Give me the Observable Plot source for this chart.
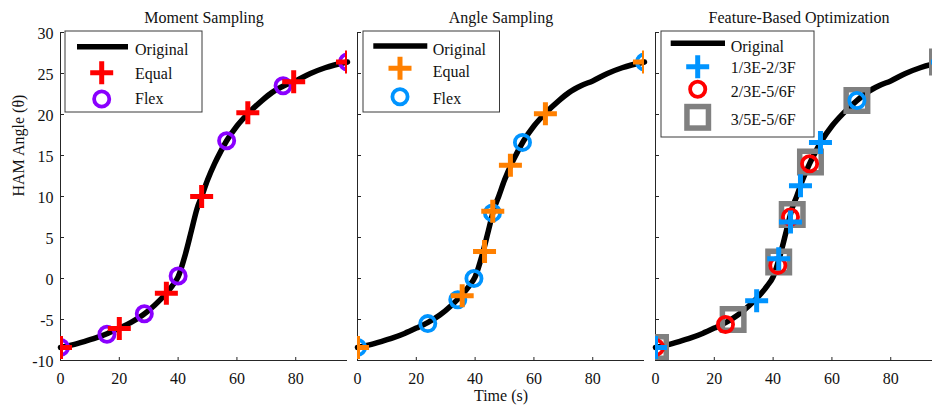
<!DOCTYPE html>
<html>
<head>
<meta charset="utf-8">
<script src="https://cdn.jsdelivr.net/npm/d3@7"></script>
<script src="https://cdn.jsdelivr.net/npm/@observablehq/plot@0.6"></script>
<style>
  body { margin: 0; background: #fff; }
  #chart { position: relative; width: 932px; height: 409px; overflow: hidden; background: #fff; }
  .panel { position: absolute; top: 0; }
  #chart svg text { font-family: 'Liberation Serif','Times New Roman',Times,serif; }
</style>
</head>
<body>
<div id="chart"></div>
<script>
// ---------------- data ----------------
const xMax = 97.6;
const yTicks = [-10, -5, 0, 5, 10, 15, 20, 25, 30];
const xTicks = [0, 20, 40, 60, 80];

// original HAM angle trajectory
const curveT = [0, 4, 8, 12, 16, 20, 24, 28, 32, 36, 38, 40, 42.5, 44.5, 46.5, 48, 50, 52.4, 54.5, 56.5, 60, 64, 68.5, 72, 76, 80, 85, 90, 97.6];
const curveY = [-8.4, -8.1, -7.7, -7.25, -6.7, -6.05, -5.35, -4.45, -3.25, -1.8, -0.9, 0.2, 3.0, 5.8, 8.6, 10.0, 12.0, 14.0, 15.5, 16.8, 18.6, 20.2, 21.7, 22.7, 23.5, 24.1, 25.0, 25.7, 26.4];

// Moment Sampling
const momentEqualT = [0, 20, 36, 48, 63.7, 79.3, 97.6];
const momentEqualY = [-8.4, -6.1, -1.8, 10.0, 20.2, 24.0, 26.4];
const momentFlexT = [0, 15.8, 28.5, 40, 56.5, 75.7, 97.6];
const momentFlexY = [-8.4, -6.8, -4.3, 0.3, 16.8, 23.5, 26.4];

// Angle Sampling
const angleEqualT = [0, 35.6, 43.2, 46.0, 52.0, 63.9, 97.6];
const angleEqualY = [-8.4, -2.1, 3.3, 8.2, 13.8, 20.1, 26.4];
const angleFlexT = [0, 23.9, 34.1, 39.6, 45.9, 56.1, 97.6];
const angleFlexY = [-8.4, -5.5, -2.6, 0.0, 8.0, 16.6, 26.4];

// Feature-Based Optimization
const featAT = [0, 34.4, 41.9, 45.9, 49.3, 56.1, 97.6];      // 1/3E-2/3F
const featAY = [-8.4, -2.7, 2.4, 6.9, 11.3, 16.6, 26.4];
const featBT = [0, 23.8, 41.6, 45.9, 52.4];                  // 2/3E-5/6F
const featBY = [-8.4, -5.6, 1.6, 7.5, 14.0];
const featBlueRingT = [68.5];                                // stray blue ring
const featBlueRingY = [21.7];
const featCT = [0, 26.4, 41.9, 46.5, 52.7, 68.5, 97.6];      // 3/5E-5/6F
const featCY = [-8.4, -5.0, 2.0, 7.8, 14.2, 21.7, 26.4];

// ---------------- styling ----------------
const FONT = "'Liberation Serif','Times New Roman',Times,serif";
const AX = "#262626";
const TXT = "#111";
const RED = "#ff0000", PURPLE = "#8a00ff", ORANGE = "#ff8000", BLUE = "#0094ff", GRAY = "#808080";

const plusSym = {draw(ctx, size) { const r = Math.sqrt(size / Math.PI); ctx.moveTo(-r, 0); ctx.lineTo(r, 0); ctx.moveTo(0, -r); ctx.lineTo(0, r); }};
const squareSym = {draw(ctx, size) { const r = Math.sqrt(size / Math.PI); ctx.moveTo(-r, -r); ctx.lineTo(r, -r); ctx.lineTo(r, r); ctx.lineTo(-r, r); ctx.closePath(); }};
const tickRight = {draw(ctx) { ctx.moveTo(0, 0); ctx.lineTo(3.5, 0); }};
const tickUp = {draw(ctx) { ctx.moveTo(0, 0); ctx.lineTo(0, -3.5); }};

const PLUS = {kind: "plus", symbol: plusSym, r: 11.5, strokeWidth: 5};
const RING = {kind: "ring", symbol: "circle", r: 7.6, strokeWidth: 3.8};
const SQUARE = {kind: "square", symbol: squareSym, r: 10.75, strokeWidth: 5.5};

const zip = (xs, ys) => xs.map((x, i) => ({x, y: ys[i]}));
const T = {fontSize: 16, fontFamily: FONT, fill: TXT, lineAnchor: "middle"};

function seriesMark(s) {
  return Plot.dot(zip(s.t, s.y), {
    x: "x", y: "y", symbol: s.m.symbol, r: s.m.r, stroke: s.color, strokeWidth: s.m.strokeWidth,
    fill: "none", strokeLinecap: "butt", strokeLinejoin: "miter", clip: true
  });
}

function panel(cfg) {
  const marks = [
    Plot.ruleX([0], {stroke: AX, strokeWidth: 1}),
    Plot.ruleY([-10], {stroke: AX, strokeWidth: 1}),
    Plot.dot(yTicks, {x: 0, y: d => d, symbol: tickRight, stroke: AX, strokeWidth: 1}),
    Plot.dot(xTicks, {x: d => d, y: -10, symbol: tickUp, stroke: AX, strokeWidth: 1}),
    Plot.text(xTicks, {x: d => d, y: -10, text: d => String(d), dy: 18, ...T}),
    Plot.text([cfg.title], {frameAnchor: "top", dy: -15, text: d => d, ...T}),
    Plot.line(zip(curveT, curveY), {x: "x", y: "y", stroke: "#000", strokeWidth: 5.5, curve: "monotone-x", strokeLinejoin: "round"}),
    ...cfg.series.map(seriesMark)
  ];
  if (cfg.yLabels) {
    marks.push(Plot.text(yTicks, {x: 0, y: d => d, text: d => String(d), textAnchor: "end", dx: -7, dy: 1, ...T}));
    marks.push(Plot.text(["HAM Angle (\u03b8)"], {frameAnchor: "left", dx: -42, rotate: -90, text: d => d, ...T}));
  }
  if (cfg.xLabel) {
    marks.push(Plot.text([cfg.xLabel], {frameAnchor: "bottom", dy: 35, text: d => d, ...T}));
  }
  const svg = Plot.plot({
    width: cfg.width, height: 409,
    marginTop: 32, marginBottom: 49, marginLeft: cfg.mL, marginRight: cfg.mR,
    x: {domain: [0, xMax], axis: null},
    y: {domain: [-10, 30], axis: null},
    style: {background: "transparent", overflow: "visible", fontFamily: FONT, fontSize: "16px", maxWidth: "none"},
    marks
  });
  const div = document.createElement("div");
  div.className = "panel";
  div.style.left = cfg.left + "px";
  div.style.width = cfg.width + "px";
  div.appendChild(svg);
  document.getElementById("chart").appendChild(div);
  drawLegend(svg, cfg.left, cfg.legend, cfg.series);
}

function drawLegend(svgNode, left, L, series) {
  const g = d3.select(svgNode).append("g")
    .attr("transform", `translate(${-left},0)`)
    .attr("font-family", FONT).attr("font-size", 16).attr("fill", TXT)
    .attr("text-anchor", "start");
  g.append("rect")
    .attr("x", L.box[0]).attr("y", L.box[1])
    .attr("width", L.box[2] - L.box[0]).attr("height", L.box[3] - L.box[1])
    .attr("fill", "#fff").attr("stroke", "#3a3a3a").attr("stroke-width", 1);
  g.append("line")
    .attr("x1", L.line[0]).attr("x2", L.line[1]).attr("y1", L.line[2]).attr("y2", L.line[2])
    .attr("stroke", "#000").attr("stroke-width", 5.5);
  g.append("text").attr("x", L.tx).attr("y", L.base[0]).attr("text-anchor", "start").text("Original");
  L.items.forEach((it, i) => {
    const s = series.find(d => d.label === it);
    const cx = L.mx, cy = L.my[i], m = s.m;
    if (m.kind === "plus") {
      g.append("path").attr("d", `M${cx - m.r},${cy}H${cx + m.r}M${cx},${cy - m.r}V${cy + m.r}`)
        .attr("stroke", s.color).attr("stroke-width", m.strokeWidth).attr("fill", "none");
    } else if (m.kind === "ring") {
      g.append("circle").attr("cx", cx).attr("cy", cy).attr("r", m.r)
        .attr("stroke", s.color).attr("stroke-width", m.strokeWidth).attr("fill", "none");
    } else {
      g.append("rect").attr("x", cx - m.r).attr("y", cy - m.r).attr("width", 2 * m.r).attr("height", 2 * m.r)
        .attr("stroke", s.color).attr("stroke-width", m.strokeWidth).attr("fill", "none");
    }
    g.append("text").attr("x", L.tx).attr("y", L.base[i + 1]).attr("text-anchor", "start").text(it);
  });
}

panel({
  left: 0, width: 357, mL: 60, mR: 10, title: "Moment Sampling", yLabels: true,
  series: [
    {label: "Flex", t: momentFlexT, y: momentFlexY, color: PURPLE, m: RING},
    {label: "Equal", t: momentEqualT, y: momentEqualY, color: RED, m: PLUS}
  ],
  legend: {box: [65, 31, 202, 112], line: [77, 128, 46.7], tx: 135, base: [54.8, 78.8, 104.3], mx: 101.7, my: [72.7, 99], items: ["Equal", "Flex"]}
});

panel({
  left: 347, width: 307, mL: 10, mR: 10, title: "Angle Sampling", xLabel: "Time (s)",
  series: [
    {label: "Flex", t: angleFlexT, y: angleFlexY, color: BLUE, m: RING},
    {label: "Equal", t: angleEqualT, y: angleEqualY, color: ORANGE, m: PLUS}
  ],
  legend: {box: [363, 31, 499.5, 112], line: [373.3, 427.3, 46], tx: 432.7, base: [55, 77.3, 104], mx: 400, my: [68.3, 96.7], items: ["Equal", "Flex"]}
});

panel({
  left: 645, width: 307, mL: 10, mR: 10, title: "Feature-Based Optimization",
  series: [
    {label: "3/5E-5/6F", t: featCT, y: featCY, color: GRAY, m: SQUARE},
    {label: "2/3E-5/6F", t: featBT, y: featBY, color: RED, m: RING},
    {label: "ring", t: featBlueRingT, y: featBlueRingY, color: BLUE, m: RING},
    {label: "1/3E-2/3F", t: featAT, y: featAY, color: BLUE, m: PLUS}
  ],
  legend: {box: [661, 31, 814, 137], line: [670.7, 725, 43.3], tx: 730.7, base: [51.7, 73.3, 96.7, 125], mx: 697.7, my: [66.7, 89.3, 117.3], items: ["1/3E-2/3F", "2/3E-5/6F", "3/5E-5/6F"]}
});
</script>
</body>
</html>
